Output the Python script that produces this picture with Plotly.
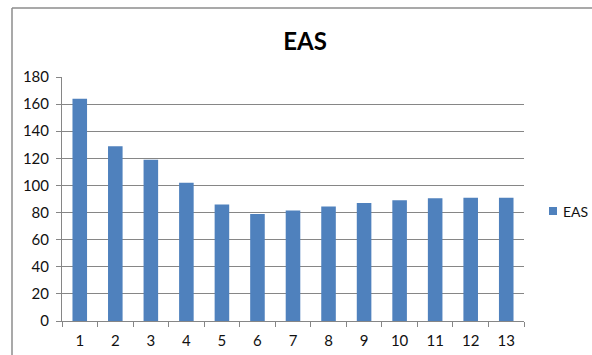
import plotly.graph_objects as go

categories = [str(i) for i in range(1, 14)]
eas_values = [164, 129, 119, 102, 86, 79, 81.5, 84.5, 87, 89, 90.5, 91, 91]
y_ticks = [0, 20, 40, 60, 80, 100, 120, 140, 160, 180]
series_name = "EAS"
bar_color = "#4F81BD"

fig = go.Figure()
fig.add_trace(go.Bar(
    x=categories,
    y=eas_values,
    name=series_name,
    marker=dict(color=bar_color, line=dict(width=0)),
    showlegend=False,
))

axis_grey = "#868686"
font_family = "Lato, 'Open Sans', sans-serif"

# plot area in pixels
L, R, T, B = 62, 524, 77, 321
W, H = 592, 355

fig.update_layout(
    width=W,
    height=H,
    margin=dict(l=L, r=W - R, t=T, b=H - B, autoexpand=False),
    paper_bgcolor="white",
    plot_bgcolor="white",
    bargap=0.59,
    font=dict(family=font_family, size=15, color="#111111"),
    title=dict(
        text="<b>EAS</b>",
        x=305 / W,
        xanchor="center",
        y=1 - 42 / H,
        yanchor="middle",
        font=dict(family=font_family, size=24, color="#000000"),
    ),
    xaxis=dict(
        type="category",
        automargin=False,
        showline=True,
        linecolor=axis_grey,
        linewidth=1,
        ticks="outside",
        tickson="boundaries",
        ticklen=5,
        tickcolor=axis_grey,
        showgrid=False,
        tickfont=dict(size=15),
        ticklabelstandoff=6,
    ),
    yaxis=dict(
        automargin=False,
        range=[0, 180],
        tickvals=y_ticks,
        showline=True,
        linecolor=axis_grey,
        linewidth=1,
        ticks="outside",
        ticklen=5,
        tickcolor=axis_grey,
        showgrid=True,
        gridcolor=axis_grey,
        gridwidth=1,
        zeroline=False,
        tickfont=dict(size=15),
        ticklabelstandoff=4,
    ),
)

def px_x(p):
    return (p - L) / (R - L)

def px_y(p):
    return (B - p) / (B - T)

# legend: swatch and series name to the right of the plot area
fig.add_shape(type="rect", xref="paper", yref="paper",
              x0=px_x(549), x1=px_x(557), y0=px_y(215), y1=px_y(207),
              fillcolor=bar_color, line=dict(width=0))
fig.add_annotation(text=series_name, xref="paper", yref="paper",
                   x=px_x(561), y=px_y(211), xanchor="left", yanchor="middle",
                   showarrow=False, font=dict(family=font_family, size=14, color="#111111"))

# chart frame: left and top edges of the outer border
fig.add_shape(type="line", xref="paper", yref="paper",
              x0=px_x(12), x1=px_x(12), y0=px_y(400), y1=px_y(8),
              line=dict(color="#8c8c8c", width=1.5))
fig.add_shape(type="line", xref="paper", yref="paper",
              x0=px_x(12), x1=px_x(700), y0=px_y(8), y1=px_y(8),
              line=dict(color="#8c8c8c", width=1.5))

fig.write_html("out.html")
